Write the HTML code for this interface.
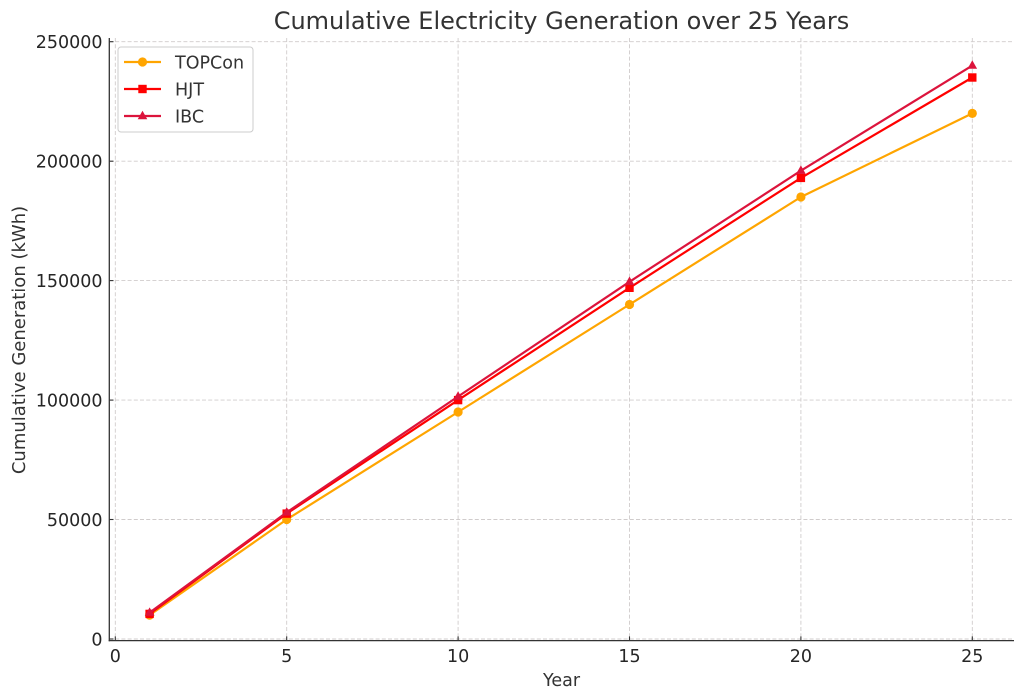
<!DOCTYPE html>
<html>
<head>
<meta charset="utf-8">
<style>
  html, body { margin: 0; padding: 0; background: #ffffff; }
  svg { display: block; }
  text { font-family: "DejaVu Sans", "Liberation Sans", sans-serif; }
</style>
</head>
<body>
<svg width="1024" height="699" viewBox="0 0 1024 699" xmlns="http://www.w3.org/2000/svg">
  <rect width="1024" height="699" fill="#ffffff"/>

  <!-- Grid -->
  <g stroke="#d0cccc" stroke-width="0.9" stroke-dasharray="4,2.2" fill="none">
    <line x1="115.3" y1="38" x2="115.3" y2="640"/>
    <line x1="286.7" y1="38" x2="286.7" y2="640"/>
    <line x1="458.1" y1="38" x2="458.1" y2="640"/>
    <line x1="629.5" y1="38" x2="629.5" y2="640"/>
    <line x1="800.9" y1="38" x2="800.9" y2="640"/>
    <line x1="972.3" y1="38" x2="972.3" y2="640"/>
    <line x1="109" y1="639" x2="1014" y2="639"/>
    <line x1="109" y1="519.5" x2="1014" y2="519.5"/>
    <line x1="109" y1="400.1" x2="1014" y2="400.1"/>
    <line x1="109" y1="280.6" x2="1014" y2="280.6"/>
    <line x1="109" y1="161.2" x2="1014" y2="161.2"/>
    <line x1="109" y1="41.7" x2="1014" y2="41.7"/>
  </g>

  <!-- Spines -->
  <g stroke="#333333" stroke-width="1.3" fill="none">
    <line x1="109.3" y1="38" x2="109.3" y2="641.2"/>
    <line x1="108.7" y1="640.6" x2="1014" y2="640.6"/>
  </g>
  <!-- Ticks (inward) -->
  <g stroke="#333333" stroke-width="1.1">
    <line x1="109.3" y1="639" x2="113.5" y2="639"/>
    <line x1="109.3" y1="519.5" x2="113.5" y2="519.5"/>
    <line x1="109.3" y1="400.1" x2="113.5" y2="400.1"/>
    <line x1="109.3" y1="280.6" x2="113.5" y2="280.6"/>
    <line x1="109.3" y1="161.2" x2="113.5" y2="161.2"/>
    <line x1="109.3" y1="41.7" x2="113.5" y2="41.7"/>
    <line x1="115.3" y1="640.6" x2="115.3" y2="636.4"/>
    <line x1="286.7" y1="640.6" x2="286.7" y2="636.4"/>
    <line x1="458.1" y1="640.6" x2="458.1" y2="636.4"/>
    <line x1="629.5" y1="640.6" x2="629.5" y2="636.4"/>
    <line x1="800.9" y1="640.6" x2="800.9" y2="636.4"/>
    <line x1="972.3" y1="640.6" x2="972.3" y2="636.4"/>
  </g>

  <!-- Y tick labels -->
  <g fill="#262626" font-size="17.5" text-anchor="end">
    <text x="102.5" y="645.4">0</text>
    <text x="102.5" y="525.9">50000</text>
    <text x="102.5" y="406.5">100000</text>
    <text x="102.5" y="287">150000</text>
    <text x="102.5" y="167.6">200000</text>
    <text x="102.5" y="48.1">250000</text>
  </g>
  <!-- X tick labels -->
  <g fill="#262626" font-size="17.5" text-anchor="middle">
    <text x="115.3" y="662">0</text>
    <text x="286.7" y="662">5</text>
    <text x="458.1" y="662">10</text>
    <text x="629.5" y="662">15</text>
    <text x="800.9" y="662">20</text>
    <text x="972.3" y="662">25</text>
  </g>

  <!-- Axis labels -->
  <text x="561.5" y="686" font-size="17.5" fill="#333333" text-anchor="middle">Year</text>
  <text transform="translate(25,340) rotate(-90)" font-size="18" fill="#333333" text-anchor="middle">Cumulative Generation (kWh)</text>

  <!-- Title -->
  <text x="561.5" y="29" font-size="24" fill="#333333" text-anchor="middle">Cumulative Electricity Generation over 25 Years</text>

  <!-- TOPCon -->
  <polyline fill="none" stroke="#FFA500" stroke-width="2.2" stroke-linejoin="round"
    points="149.6,615.1 286.7,519.5 458.1,412.0 629.5,304.5 800.9,197.0 972.3,113.4"/>
  <g fill="#FFA500">
    <circle cx="149.6" cy="615.1" r="4.6"/>
    <circle cx="286.7" cy="519.5" r="4.6"/>
    <circle cx="458.1" cy="412.0" r="4.6"/>
    <circle cx="629.5" cy="304.5" r="4.6"/>
    <circle cx="800.9" cy="197.0" r="4.6"/>
    <circle cx="972.3" cy="113.4" r="4.6"/>
  </g>

  <!-- HJT -->
  <polyline fill="none" stroke="#FF0000" stroke-width="2.2" stroke-linejoin="round"
    points="149.6,613.9 286.7,513.6 458.1,400.1 629.5,287.8 800.9,177.9 972.3,77.5"/>
  <g fill="#FF0000">
    <rect x="145.4" y="609.7" width="8.4" height="8.4"/>
    <rect x="282.5" y="509.4" width="8.4" height="8.4"/>
    <rect x="453.9" y="395.9" width="8.4" height="8.4"/>
    <rect x="625.3" y="283.6" width="8.4" height="8.4"/>
    <rect x="796.7" y="173.7" width="8.4" height="8.4"/>
    <rect x="968.1" y="73.3" width="8.4" height="8.4"/>
  </g>

  <!-- IBC -->
  <polyline fill="none" stroke="#DC143C" stroke-width="2.2" stroke-linejoin="round"
    points="149.6,612.7 286.7,512.4 458.1,396.5 629.5,281.8 800.9,170.7 972.3,65.6"/>
  <g fill="#DC143C">
    <polygon points="149.6,607.4 144.8,615.9 154.4,615.9"/>
    <polygon points="286.7,507.1 281.9,515.6 291.5,515.6"/>
    <polygon points="458.1,391.2 453.3,399.7 462.9,399.7"/>
    <polygon points="629.5,276.5 624.7,285.0 634.3,285.0"/>
    <polygon points="800.9,165.4 796.1,173.9 805.7,173.9"/>
    <polygon points="972.3,60.3 967.5,68.8 977.1,68.8"/>
  </g>

  <!-- Legend -->
  <rect x="118" y="47" width="135" height="85" rx="3" ry="3" fill="#ffffff" fill-opacity="0.85" stroke="#cccccc" stroke-width="1"/>
  <line x1="124" y1="62" x2="161" y2="62" stroke="#FFA500" stroke-width="2.2"/>
  <circle cx="142.5" cy="62" r="4.6" fill="#FFA500"/>
  <line x1="124" y1="89" x2="161" y2="89" stroke="#FF0000" stroke-width="2.2"/>
  <rect x="138.3" y="84.8" width="8.4" height="8.4" fill="#FF0000"/>
  <line x1="124" y1="116" x2="161" y2="116" stroke="#DC143C" stroke-width="2.2"/>
  <polygon points="142.5,110.7 137.7,119.2 147.3,119.2" fill="#DC143C"/>
  <g fill="#333333" font-size="17.5">
    <text x="175" y="68.4">TOPCon</text>
    <text x="175" y="95.4">HJT</text>
    <text x="175" y="122.4">IBC</text>
  </g>
</svg>
</body>
</html>
